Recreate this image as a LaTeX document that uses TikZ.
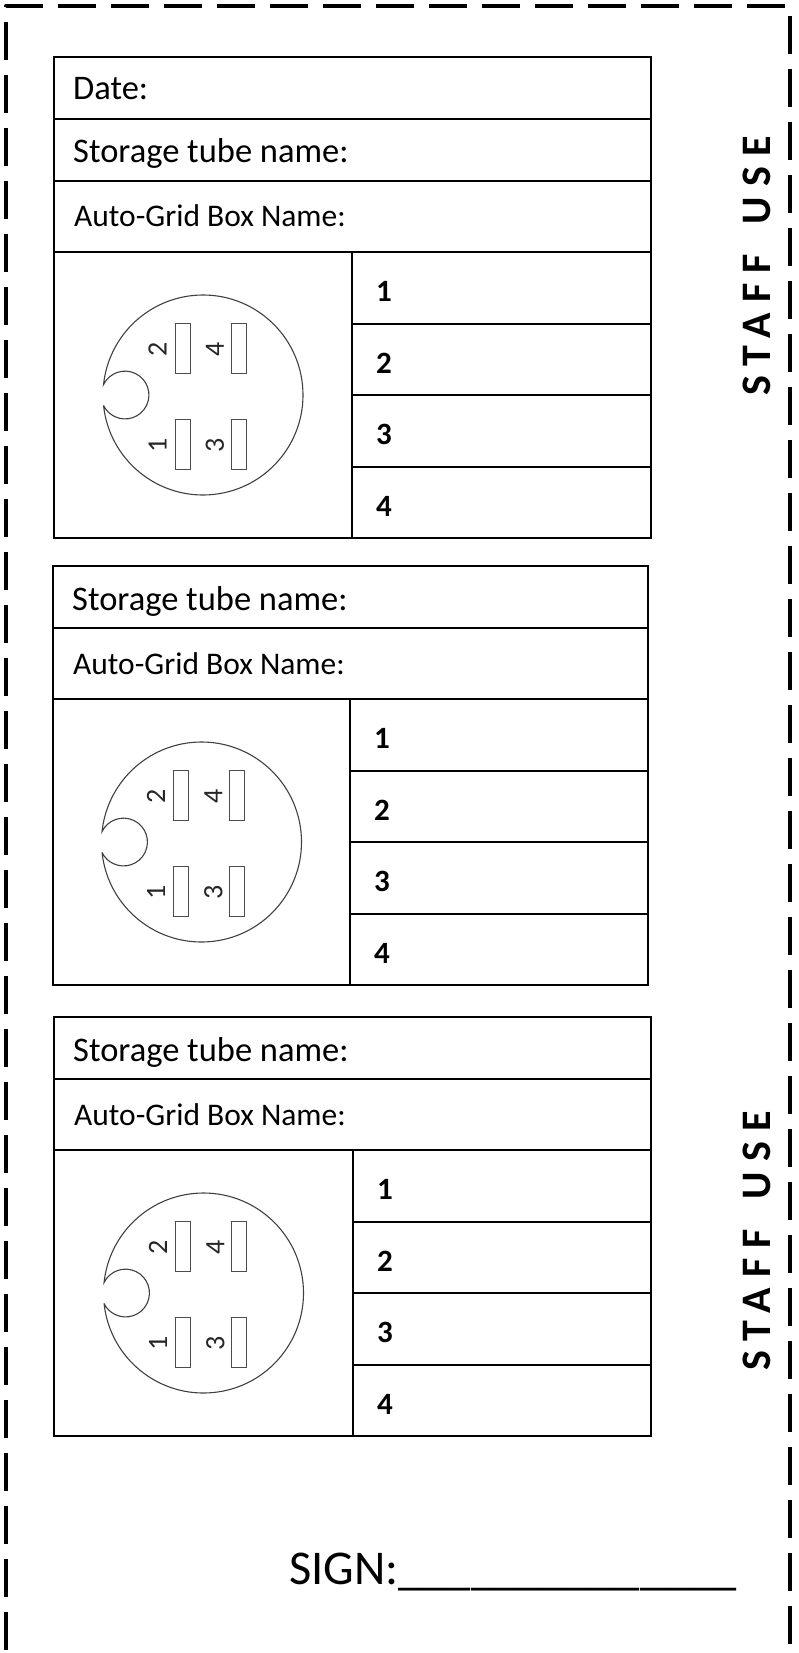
\documentclass[tikz,border=0pt]{standalone}
\usepackage{fontspec}
\setmainfont{Carlito}
\newfontfamily\stafffont[LetterSpace=24]{Carlito}
\usepackage{tikz}

\begin{document}
\begin{tikzpicture}[x=1pt, y=-1pt,
frame/.style={draw, line width=2pt},
cut/.style={draw, line width=4pt, line join=round, dash pattern=on 38pt off 15pt},
plug/.style={draw=black!75, line width=1.1pt},
slot/.style={draw=black!70, line width=1pt, minimum width=15pt, minimum height=50pt, inner sep=0pt},
slotlabel/.style={rotate=90, inner sep=0pt, text=black!85, font=\fontsize{28}{32}\selectfont},
field/.style={anchor=base west, inner sep=0pt, font=\fontsize{34.5}{40}\selectfont},
boxname/.style={anchor=base west, inner sep=0pt, font=\fontsize{31.5}{36}\selectfont},
gridnum/.style={anchor=base west, inner sep=0pt, font=\bfseries\fontsize{31}{36}\selectfont},
staff/.style={rotate=90, inner sep=0pt, font=\stafffont\bfseries\fontsize{42}{50}\selectfont}]
  \useasboundingbox (0,0) rectangle (799,1653);
  \clip (0,0) rectangle (799,1653);
  % cut line round the slip
  \draw[cut] (6,1703) -- (6,6) -- (790,6) -- (790,1703);
  % date row on top
  \draw[frame] (54,57) rectangle (651,119);
  \node[field] (date) at (73,100) {Date:};
  % 3 storage boxes
  \foreach \i/\ty/\lx/\rx/\dx in {1/119/54/651/352, 2/566/53/648/350, 3/1017/54/651/353} {
    \draw[frame] (\lx,\ty) rectangle (\rx,\ty+62);
    \draw[frame] (\lx,\ty+62) rectangle (\rx,\ty+133);
    \draw[frame] (\lx,\ty+133) rectangle (\rx,\ty+419);
    \draw[frame] (\dx,\ty+133) -- (\dx,\ty+419);
    \foreach \k in {1,2,3}
      \draw[frame] (\dx,\ty+133+71.5*\k) -- (\rx,\ty+133+71.5*\k);
    \node[field] (tube\i) at (\lx+19,\ty+44) {Storage tube name:};
    \node[boxname] (gridbox\i) at (\lx+20,\ty+108) {Auto-Grid Box Name:};
    \foreach \k in {1,...,4}
      \node[gridnum] (num\i\k) at (\dx+24,\ty+111.25+71.5*\k) {\k};
    % grid box with its notch
    \pgfmathsetmacro\cx{(\lx+\dx)/2}
    \pgfmathsetmacro\cy{\ty+276}
    \coordinate (c\i) at (\cx,\cy);
    \draw[plug] (c\i) ++(186:100pt) arc[start angle=186, end angle=534, radius=100pt]
      arc[start angle=154, end angle=-154, radius=23.9pt] -- cycle;
    \foreach \pn/\px/\py/\lab in {1/-20.5/49/-25, 2/-20.5/-47/-25, 3/35.5/49/-23.5, 4/35.5/-47/-23.5} {
      \node[slot] (slot\i\pn) at (\cx+\px,\cy+\py) {};
      \node[slotlabel] (lab\i\pn) at (\cx+\px+\lab,\cy+\py+1.5) {\pn};
    }
  }
  % side labels
  \node[staff] (staff1) at (757,266) {STAFF\hspace{30pt}USE};
  \node[staff] (staff2) at (757,1241) {STAFF\hspace{30pt}USE};
  \node[anchor=base west, inner sep=0pt, font=\fontsize{48.5}{56}\selectfont] (sign) at (289,1584)
    {SIGN:\_\_\_\_\_\_\_\_\_\_\_\_\_\_};
\end{tikzpicture}
\end{document}
